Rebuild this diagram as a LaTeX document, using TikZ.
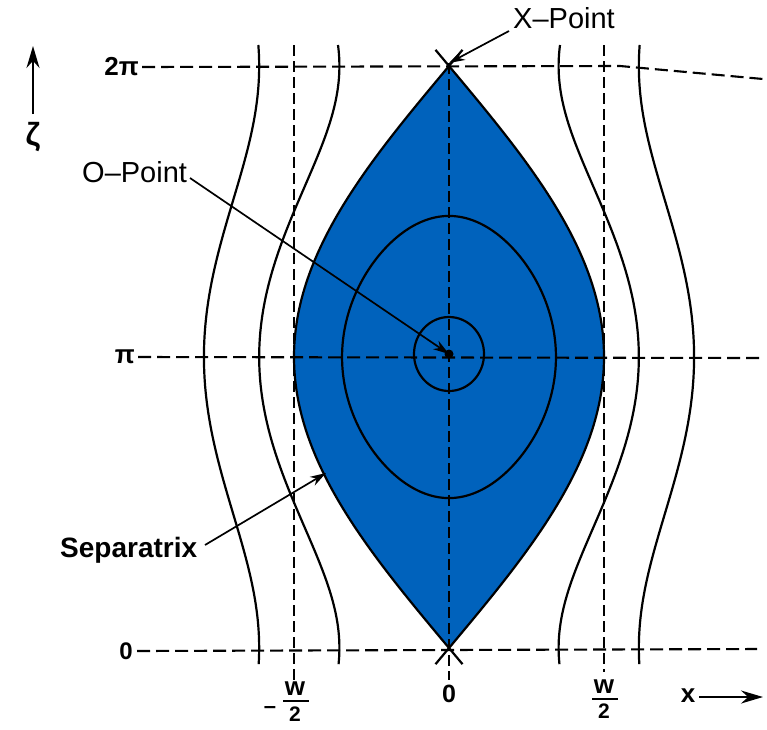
\documentclass[tikz,border=0pt]{standalone}
\usepackage{fontspec}
\setmainfont{Liberation Sans}
\usetikzlibrary{arrows.meta}
\definecolor{island}{RGB}{0,98,188}
\begin{document}
\begin{tikzpicture}[x=1pt,y=-1pt,
  curve/.style={line width=2.2pt},
  guide/.style={line width=2.1pt, dash pattern=on 13pt off 6pt},
  vguide/.style={line width=1.9pt, dash pattern=on 11pt off 5pt},
  lbl/.style={font=\fontsize{29}{29}\selectfont, inner sep=0pt},
  num/.style={font=\bfseries\fontsize{26}{26}\selectfont, inner sep=0pt},
  frac/.style={font=\bfseries\fontsize{26}{26}\selectfont, inner sep=0pt},
  pointer/.style={line width=1.7pt, -{Stealth[length=16pt,width=10pt]}},
  bigarrow/.style={line width=2pt, -{Stealth[length=22pt,width=13pt]}},
]
\useasboundingbox (0,0) rectangle (767,729);
% island (filled lens)
\fill[island] plot[domain=0:360, samples=120] ({449+155*sin(\x/2)}, {648-1.61667*\x})
  -- plot[domain=360:0, samples=120] ({449-155*sin(\x/2)}, {648-1.61667*\x}) -- cycle;

% axis labels
\node[num, anchor=east] (l2pi) at (139,67) {2π};
\node[num, anchor=east] (lpi) at (135,357) {π};
\node[num, anchor=east, font=\bfseries\fontsize{24}{24}\selectfont] (l0) at (133,651) {0};
\coordinate (h2m) at (620,66);
\coordinate (h2e) at (763,79);
\coordinate (hpe) at (760,358);
\coordinate (h0e) at (757,649);
\draw[guide] (l2pi.east) ++(3,0) -- (h2m) -- (h2e);
\draw[guide] (lpi.east) ++(3,0) -- (hpe);
\draw[guide] (l0.east) ++(4,0) -- (h0e);

% vertical guides
\coordinate (X) at (449,63);
\coordinate (Xb) at (449,648);
\coordinate (O) at (449,354);
\coordinate (c0) at (449,680);
\coordinate (lwt) at (294,45);
\coordinate (lwb) at (294,684);
\coordinate (rwt) at (604,45);
\coordinate (rwb) at (604,672);
\draw[vguide] (X) -- (c0);
\draw[vguide] (lwt) -- (lwb);
\draw[vguide] (rwt) -- (rwb);

% separatrix outline (with X crossings)
\draw[curve] plot[smooth, domain=-10:370, samples=120] ({449+155*sin(\x/2)}, {648-1.61667*\x});
\draw[curve] plot[smooth, domain=-10:370, samples=120] ({449-155*sin(\x/2)}, {648-1.61667*\x});

% outer flux surfaces
\foreach \k in {0.5,1.5}{
  \draw[curve] plot[smooth, domain=-10:373, samples=90] ({449+155*sqrt(sin(\x/2)^2+\k)}, {648-1.61667*\x});
  \draw[curve] plot[smooth, domain=-10:373, samples=90] ({449-155*sqrt(sin(\x/2)^2+\k)}, {648-1.61667*\x});
}

% inner flux surfaces
\draw[curve] plot[smooth cycle, domain=0:357, samples=120] ({449+155*0.69*sin(\x)}, {648-3.23333*acos(0.69*cos(\x))});
\draw[curve] (O) ellipse [x radius=35, y radius=37];
\fill (O) circle (4.5);

% labels with pointers
\node[lbl, anchor=base west] (xp) at (513,28) {X–Point};
\node[lbl, anchor=base west] (op) at (82,182) {O–Point};
\node[lbl, anchor=base west, font=\bfseries\fontsize{28}{28}\selectfont] (sp) at (60,557) {Separatrix};
\coordinate (xps) at (509,31);
\coordinate (ops) at (190,178);
\coordinate (sps) at (205,545);
\coordinate (spt) at (326,473);
\draw[pointer] (xps) -- (X);
\draw[pointer] (ops) -- (O);
\draw[pointer] (sps) -- (spt);

% zeta axis
\node[font=\bfseries\fontsize{32}{32}\selectfont] (zl) at (33,137) {ζ};
\coordinate (za) at (33,114);
\coordinate (zt) at (33,46);
\draw[bigarrow] (za) -- (zt);

% x axis labels
\node[num, font=\bfseries\fontsize{25}{25}\selectfont] (b0) at (449,694) {0};
\node[frac] (rwn) at (604,687) {w};
\node[num, font=\bfseries\fontsize{21}{21}\selectfont] (rwd) at (604,711) {2};
\draw[line width=1.6pt] (592,699) -- (618,699);
\node[frac] (lwn) at (295,689) {w};
\node[num, font=\bfseries\fontsize{21}{21}\selectfont] (lwd) at (295,714) {2};
\draw[line width=1.6pt] (283,701) -- (309,701);
\node[num, font=\bfseries\fontsize{22}{22}\selectfont] (lwm) at (270,710) {–};
\node[num, font=\bfseries\fontsize{26}{26}\selectfont] (xl) at (688,696) {x};
\coordinate (xe) at (763,697);
\draw[bigarrow] (xl.east) ++(4,1) -- (xe);
\end{tikzpicture}
\end{document}
